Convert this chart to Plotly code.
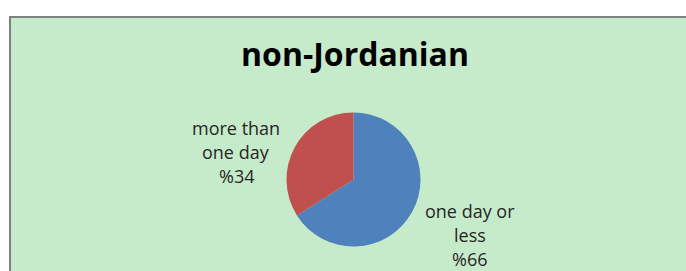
import plotly.graph_objects as go

categories = ["one day or<br>less", "more than<br>one day"]
values = [66, 34]
colors = ["#4F81BD", "#C0504D"]
title_text = "non-Jordanian"

W, H = 686, 271


def px(X):
    return X / W


def py(Y):
    return 1 - Y / H


cx, cy, r = 353.5, 179.5, 67

fig = go.Figure()
fig.add_trace(go.Pie(
    labels=categories, values=values, sort=False, direction="clockwise",
    rotation=0, marker=dict(colors=colors, line=dict(width=0)),
    textinfo="none", hoverinfo="label+percent", showlegend=False,
    domain=dict(x=[px(cx - r), px(cx + r)], y=[py(cy + r), py(cy - r)]),
))

label_pos = [(469.5, 211), (236, 128)]
line_gap = 24
for cat, val, (lx, ly) in zip(categories, values, label_pos):
    lines = cat.split("<br>") + [f"%{val}"]
    for i, t in enumerate(lines):
        fig.add_annotation(
            x=px(lx), y=py(ly + i * line_gap), xref="paper", yref="paper",
            xanchor="center", yanchor="middle",
            text=t, showarrow=False, align="center",
            font=dict(family="Open Sans", size=18, color="#262626"),
        )

fig.update_layout(
    width=W, height=H,
    margin=dict(l=0, r=0, t=0, b=0),
    paper_bgcolor="white", plot_bgcolor="white",
    title=dict(text=f"<b>{title_text}</b>", x=px(355), xanchor="center",
               y=py(55), yanchor="middle",
               font=dict(family="Open Sans", size=32, color="black")),
    shapes=[dict(type="rect", xref="paper", yref="paper", layer="below",
                 x0=px(10), x1=1.05, y0=-0.05, y1=py(17),
                 fillcolor="#C6EBCB", line=dict(color="#808080", width=2))],
)
fig.write_html(
    "out.html",
    config={"displayModeBar": False},
    post_script="document.body.style.margin='0';document.body.style.overflow='hidden';",
)
